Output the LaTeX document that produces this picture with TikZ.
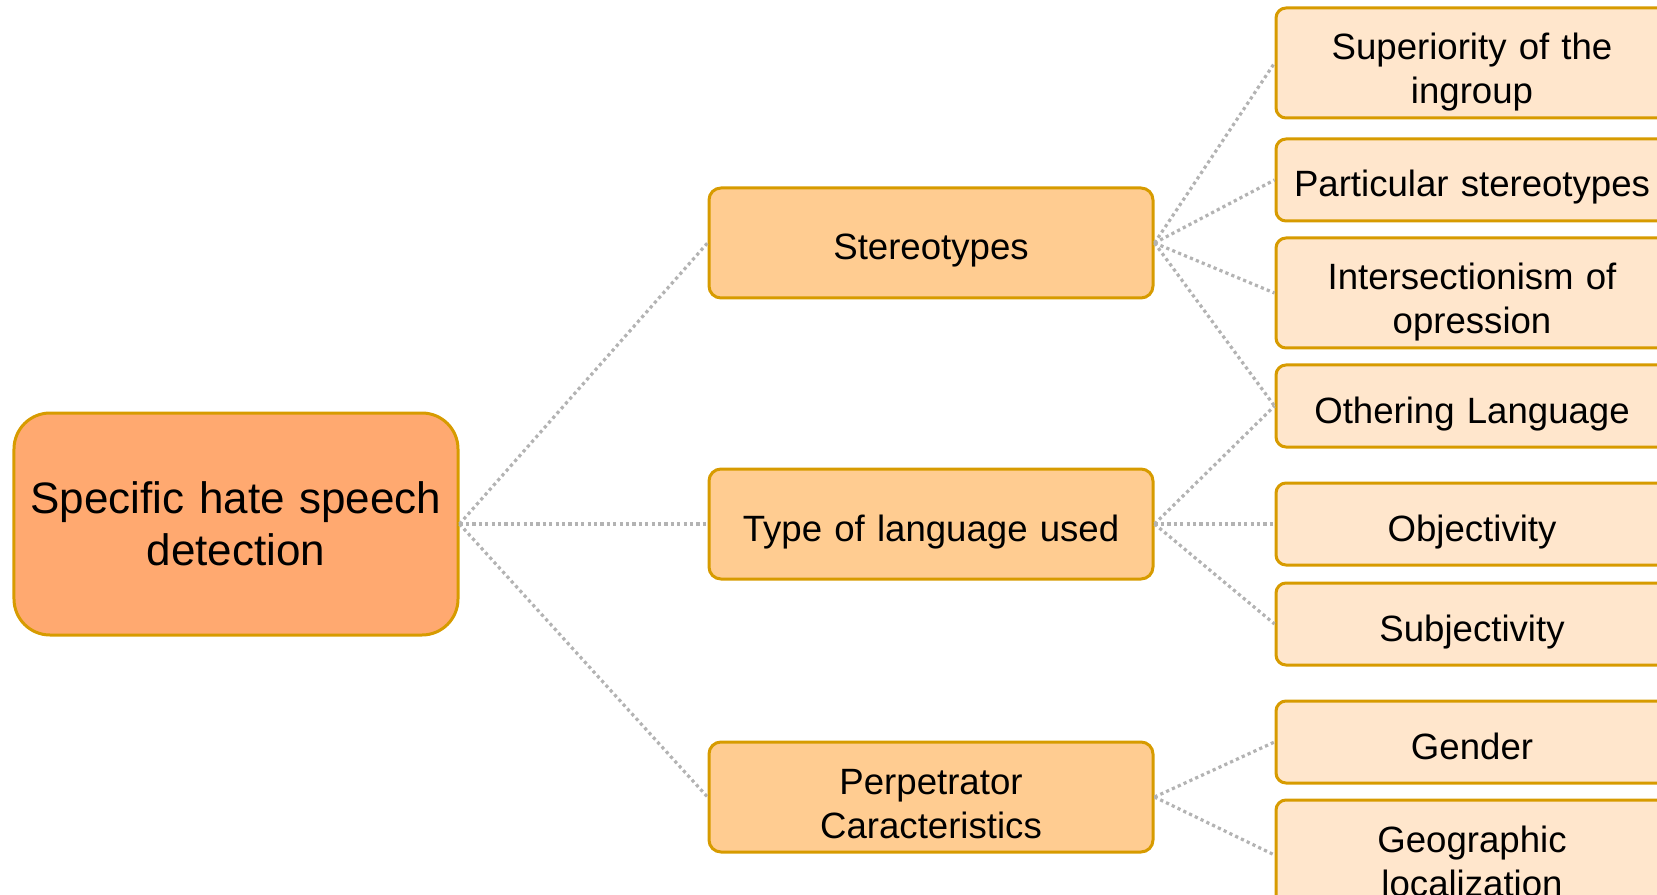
\documentclass[tikz,border=0pt]{standalone}
\usepackage{fontspec}
\setmainfont{Liberation Sans}
\usetikzlibrary{positioning}
\definecolor{mainfill}{HTML}{FFA970}
\definecolor{catfill}{HTML}{FFCC91}
\definecolor{subfill}{HTML}{FFE6CC}
\definecolor{boxline}{HTML}{D79B00}
\definecolor{linkgray}{HTML}{B3B3B3}
\tikzstyle{box}=[draw=boxline, line width=1.5pt, rounded corners=6pt, inner sep=5pt, align=center]
\tikzstyle{mainbox} = [box, fill=mainfill, rounded corners=18pt, text width=212pt,
    minimum height=111pt, font=\fontsize{22}{26}\selectfont]
\tikzstyle{catbox} = [box, fill=catfill, text width=212pt, minimum height=55pt,
    font=\fontsize{18.3}{22}\selectfont, text height=17pt, text depth=0pt]
\tikzstyle{twoline} = [text height=13pt, text depth=16pt]
\tikzstyle{subbox} = [catbox, fill=subfill, text width=186pt, rounded corners=5pt, minimum height=41pt]
\tikzstyle{tallbox} = [subbox, twoline, minimum height=55pt]
\tikzstyle{link} = [draw=linkgray, line width=1.6pt, dash pattern=on 1.6pt off 1.6pt]
\def\catdist{347.5pt}
\def\subdist{270.5pt}

\begin{document}
\begin{tikzpicture}
	\useasboundingbox (-118pt,-185pt) rectangle (710.5pt,262pt);
	% Define the nodes in the picture
	\node (detect) [mainbox] {Specific hate speech\\detection};
	\node (stereo) [catbox,right of=detect,node distance=\catdist,yshift=140.5pt] {Stereotypes};
	\node (lang) [catbox,right of=detect,node distance=\catdist] {Type of language used};
	\node (perp) [catbox,twoline,right of=detect,node distance=\catdist,yshift=-136.5pt] {Perpetrator\\Caracteristics};
	\node (superior) [tallbox,right of=stereo,node distance=\subdist,yshift=90pt] {Superiority of the\\ingroup};
	\node (partic) [subbox,right of=stereo,node distance=\subdist,yshift=31.5pt] {Particular stereotypes};
	\node (intersect) [tallbox,right of=stereo,node distance=\subdist,yshift=-25pt] {Intersectionism of\\opression};
	\node (othering) [subbox,right of=stereo,node distance=\subdist,yshift=-81.5pt] {Othering Language};
	\node (object) [subbox,right of=lang,node distance=\subdist] {Objectivity};
	\node (subject) [subbox,right of=lang,node distance=\subdist,yshift=-50pt] {Subjectivity};
	\node (gender) [subbox,right of=perp,node distance=\subdist,yshift=27.5pt] {Gender};
	\node (geo) [tallbox,right of=perp,node distance=\subdist,yshift=-29pt] {Geographic\\localization};

	% Define the edges in the picture
	\draw [link] (detect.east) -- (stereo.west);
	\draw [link] (detect.east) -- (lang.west);
	\draw [link] (detect.east) -- (perp.west);
	\draw [link] (stereo.east) -- (superior.west);
	\draw [link] (stereo.east) -- (partic.west);
	\draw [link] (stereo.east) -- (intersect.west);
	\draw [link] (stereo.east) -- (othering.west);
	\draw [link] (lang.east) -- (othering.west);
	\draw [link] (lang.east) -- (object.west);
	\draw [link] (lang.east) -- (subject.west);
	\draw [link] (perp.east) -- (gender.west);
	\draw [link] (perp.east) -- (geo.west);
\end{tikzpicture}
\end{document}
